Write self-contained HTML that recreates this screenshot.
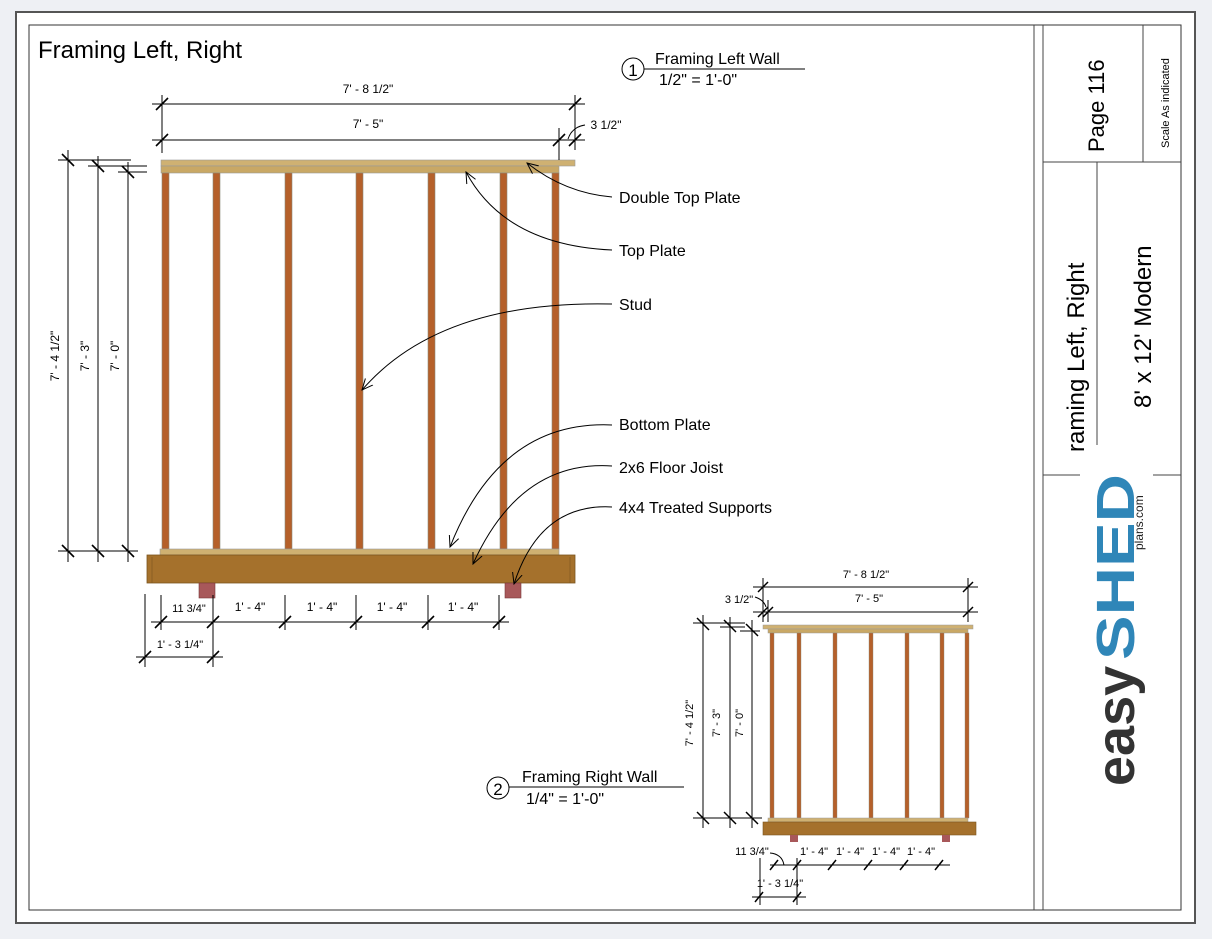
<!DOCTYPE html>
<html><head><meta charset="utf-8"><style>
html,body{margin:0;padding:0;background:#eef0f4;}
svg{display:block;font-family:"Liberation Sans",sans-serif;}
</style></head><body>
<svg width="1212" height="939" viewBox="0 0 1212 939" xmlns="http://www.w3.org/2000/svg">
<defs>
<marker id="ar" viewBox="0 0 12 12" refX="11" refY="6" markerWidth="12" markerHeight="12" orient="auto" markerUnits="userSpaceOnUse">
<path d="M0,1 L11,6 L0,11" fill="none" stroke="#000" stroke-width="1"/>
</marker>
</defs>
<rect x="0" y="0" width="1212" height="939" fill="#eef0f4"/>
<rect x="16" y="12" width="1179" height="911" fill="#fff" stroke="#555" stroke-width="2"/>
<rect x="29" y="25" width="1152" height="885" fill="#fff" stroke="#333" stroke-width="1"/>
<g stroke="#444" stroke-width="1" fill="none">
<line x1="1034" y1="25" x2="1034" y2="910"/>
<line x1="1043" y1="25" x2="1043" y2="910"/>
<line x1="1043" y1="162" x2="1181" y2="162"/>
<line x1="1143" y1="25" x2="1143" y2="162"/>
<line x1="1097" y1="162" x2="1097" y2="445"/>
<line x1="1043" y1="475" x2="1080" y2="475"/>
<line x1="1153" y1="475" x2="1181" y2="475"/>
</g>
<text transform="translate(1104,152) rotate(-90)" font-size="22">Page 116</text>
<text transform="translate(1169,148) rotate(-90)" font-size="11">Scale  As indicated</text>
<text transform="translate(1084,452) rotate(-90)" font-size="24">raming Left, Right</text>
<text transform="translate(1151,408) rotate(-90)" font-size="24">8' x 12' Modern</text>
<text transform="translate(1134,786) rotate(-90)" font-size="54" font-weight="bold" fill="#333">easy</text>
<text transform="translate(1134,660) rotate(-90)" font-size="54" font-weight="bold" fill="#2f86b8" textLength="186" lengthAdjust="spacingAndGlyphs">SHED</text>
<text transform="translate(1143,550) rotate(-90)" font-size="12" fill="#222">plans.com</text>

<text x="38" y="58" font-size="24">Framing Left, Right</text>
<circle cx="633" cy="69" r="11" fill="none" stroke="#000"/>
<text x="633" y="76" font-size="17" text-anchor="middle">1</text>
<line x1="644" y1="69" x2="805" y2="69" stroke="#000"/>
<text x="655" y="64" font-size="16">Framing Left Wall</text>
<text x="659" y="85" font-size="16">1/2" = 1'-0"</text>

<rect x="161" y="160" width="414" height="6" fill="#cfb172" stroke="#999" stroke-width="0.6"/>
<rect x="161" y="166" width="398" height="7" fill="#c9a865" stroke="#999" stroke-width="0.6"/>
<g fill="#b5602a" stroke="#8a8a7a" stroke-width="0.6">
<rect x="162" y="173" width="7" height="376"/>
<rect x="213" y="173" width="7" height="376"/>
<rect x="285" y="173" width="7" height="376"/>
<rect x="356" y="173" width="7" height="376"/>
<rect x="428" y="173" width="7" height="376"/>
<rect x="500" y="173" width="7" height="376"/>
<rect x="552" y="173" width="7" height="376"/>
</g>
<rect x="160" y="549" width="399" height="6" fill="#cfb172" stroke="#999" stroke-width="0.6"/>
<rect x="147" y="555" width="428" height="28" fill="#a5712c" stroke="#7a5520" stroke-width="0.8"/>
<line x1="152" y1="557" x2="152" y2="583" stroke="#7a5520" stroke-width="0.6"/>
<line x1="570" y1="557" x2="570" y2="583" stroke="#7a5520" stroke-width="0.6"/>
<rect x="199" y="583" width="16" height="15" fill="#a8585a" stroke="#7a3a3a" stroke-width="0.6"/>
<rect x="505" y="583" width="16" height="15" fill="#a8585a" stroke="#7a3a3a" stroke-width="0.6"/>

<g stroke="#000" stroke-width="1" fill="none">
<line x1="152" y1="104" x2="585" y2="104"/>
<line x1="152" y1="140" x2="585" y2="140"/>
<line x1="162" y1="95" x2="162" y2="153"/>
<line x1="575" y1="95" x2="575" y2="150"/>
<line x1="559" y1="128" x2="559" y2="160"/>
<line x1="156" y1="110" x2="168" y2="98" stroke-width="1.6"/>
<line x1="569" y1="110" x2="581" y2="98" stroke-width="1.6"/>
<line x1="156" y1="146" x2="168" y2="134" stroke-width="1.6"/>
<line x1="553" y1="146" x2="565" y2="134" stroke-width="1.6"/>
<line x1="569" y1="146" x2="581" y2="134" stroke-width="1.6"/>
<path d="M568,139 Q572,127 585,125"/>
<line x1="58" y1="160" x2="131" y2="160"/>
<line x1="88" y1="166" x2="147" y2="166"/>
<line x1="118" y1="172" x2="147" y2="172"/>
<line x1="58" y1="551" x2="138" y2="551"/>
<line x1="68" y1="150" x2="68" y2="562"/>
<line x1="98" y1="156" x2="98" y2="562"/>
<line x1="128" y1="162" x2="128" y2="562"/>
<line x1="62" y1="154" x2="74" y2="166" stroke-width="1.6"/>
<line x1="92" y1="160" x2="104" y2="172" stroke-width="1.6"/>
<line x1="122" y1="166" x2="134" y2="178" stroke-width="1.6"/>
<line x1="62" y1="545" x2="74" y2="557" stroke-width="1.6"/>
<line x1="92" y1="545" x2="104" y2="557" stroke-width="1.6"/>
<line x1="122" y1="545" x2="134" y2="557" stroke-width="1.6"/>
<!-- bottom dims -->
<line x1="151" y1="622" x2="509" y2="622"/>
<line x1="136" y1="657" x2="223" y2="657"/>
<line x1="145" y1="594" x2="145" y2="667"/>
<line x1="161" y1="595" x2="161" y2="630"/>
<line x1="213" y1="595" x2="213" y2="667"/>
<line x1="285" y1="595" x2="285" y2="630"/>
<line x1="356" y1="595" x2="356" y2="630"/>
<line x1="428" y1="595" x2="428" y2="630"/>
<line x1="499" y1="595" x2="499" y2="630"/>
</g>
<g stroke="#000" stroke-width="1.6">
<line x1="155" y1="628" x2="167" y2="616"/>
<line x1="207" y1="628" x2="219" y2="616"/>
<line x1="279" y1="628" x2="291" y2="616"/>
<line x1="350" y1="628" x2="362" y2="616"/>
<line x1="422" y1="628" x2="434" y2="616"/>
<line x1="493" y1="628" x2="505" y2="616"/>
<line x1="139" y1="663" x2="151" y2="651"/>
<line x1="207" y1="663" x2="219" y2="651"/>
</g>
<g font-size="12" text-anchor="middle">
<text x="368" y="93">7' - 8 1/2"</text>
<text x="368" y="128">7' - 5"</text>
<text x="606" y="129">3 1/2"</text>
<text transform="translate(59,356) rotate(-90)">7' - 4 1/2"</text>
<text transform="translate(89,356) rotate(-90)">7' - 3"</text>
<text transform="translate(119,356) rotate(-90)">7' - 0"</text>
<text x="189" y="612" font-size="11">11 3/4"</text>
<text x="250" y="611">1' - 4"</text>
<text x="322" y="611">1' - 4"</text>
<text x="392" y="611">1' - 4"</text>
<text x="463" y="611">1' - 4"</text>
<text x="180" y="648" font-size="11">1' - 3 1/4"</text>
</g>

<g stroke="#000" stroke-width="1" fill="none">
<path d="M612,197 Q565,193 527,163" marker-end="url(#ar)"/>
<path d="M612,250 Q505,245 466,172" marker-end="url(#ar)"/>
<path d="M612,304 Q440,300 362,390" marker-end="url(#ar)"/>
<path d="M612,425 Q500,420 450,547" marker-end="url(#ar)"/>
<path d="M612,466 Q520,460 473,564" marker-end="url(#ar)"/>
<path d="M612,507 Q540,503 514,584" marker-end="url(#ar)"/>
</g>
<g font-size="16">
<text x="619" y="203">Double Top Plate</text>
<text x="619" y="256">Top Plate</text>
<text x="619" y="310">Stud</text>
<text x="619" y="430">Bottom Plate</text>
<text x="619" y="473">2x6 Floor Joist</text>
<text x="619" y="513">4x4 Treated Supports</text>
</g>

<rect x="763" y="625" width="210" height="4" fill="#cfb172" stroke="#999" stroke-width="0.5"/>
<rect x="768" y="629" width="200" height="4" fill="#c9a865" stroke="#999" stroke-width="0.5"/>
<g fill="#b5602a" stroke="#8a8a7a" stroke-width="0.4">
<rect x="770" y="633" width="4" height="185"/>
<rect x="797" y="633" width="4" height="185"/>
<rect x="833" y="633" width="4" height="185"/>
<rect x="869" y="633" width="4" height="185"/>
<rect x="905" y="633" width="4" height="185"/>
<rect x="940" y="633" width="4" height="185"/>
<rect x="965" y="633" width="4" height="185"/>
</g>
<rect x="768" y="818" width="200" height="4" fill="#cfb172" stroke="#999" stroke-width="0.5"/>
<rect x="763" y="822" width="213" height="13" fill="#a5712c" stroke="#7a5520" stroke-width="0.6"/>
<rect x="790" y="835" width="8" height="7" fill="#a8585a"/>
<rect x="942" y="835" width="8" height="7" fill="#a8585a"/>
<g stroke="#000" stroke-width="1" fill="none">
<line x1="753" y1="587" x2="978" y2="587"/>
<line x1="753" y1="612" x2="978" y2="612"/>
<line x1="763" y1="578" x2="763" y2="622"/>
<line x1="768" y1="600" x2="768" y2="622"/>
<line x1="968" y1="578" x2="968" y2="622"/>
<path d="M755,597 Q764,600 766,607"/>
<line x1="693" y1="623" x2="745" y2="623"/>
<line x1="720" y1="627" x2="745" y2="627"/>
<line x1="740" y1="631" x2="760" y2="631"/>
<line x1="693" y1="818" x2="762" y2="818"/>
<line x1="703" y1="615" x2="703" y2="828"/>
<line x1="730" y1="617" x2="730" y2="828"/>
<line x1="752" y1="620" x2="752" y2="828"/>
<line x1="770" y1="865" x2="950" y2="865"/>
<line x1="752" y1="897" x2="806" y2="897"/>
<line x1="760" y1="858" x2="760" y2="905"/>
<line x1="797" y1="858" x2="797" y2="905"/>
<path d="M770,853 Q782,854 784,865"/>
</g>
<g stroke="#000" stroke-width="1.5">
<line x1="758" y1="592" x2="768" y2="582"/>
<line x1="963" y1="592" x2="973" y2="582"/>
<line x1="758" y1="617" x2="768" y2="607"/>
<line x1="763" y1="617" x2="773" y2="607"/>
<line x1="963" y1="617" x2="973" y2="607"/>
<line x1="697" y1="618" x2="709" y2="630"/>
<line x1="724" y1="620" x2="736" y2="632"/>
<line x1="746" y1="624" x2="758" y2="636"/>
<line x1="697" y1="812" x2="709" y2="824"/>
<line x1="724" y1="812" x2="736" y2="824"/>
<line x1="746" y1="812" x2="758" y2="824"/>
<line x1="770" y1="870" x2="778" y2="860"/>
<line x1="793" y1="870" x2="801" y2="860"/>
<line x1="828" y1="870" x2="836" y2="860"/>
<line x1="864" y1="870" x2="872" y2="860"/>
<line x1="900" y1="870" x2="908" y2="860"/>
<line x1="935" y1="870" x2="943" y2="860"/>
<line x1="755" y1="902" x2="763" y2="892"/>
<line x1="793" y1="902" x2="801" y2="892"/>
</g>
<g font-size="11" text-anchor="middle">
<text x="866" y="578">7' - 8 1/2"</text>
<text x="869" y="602">7' - 5"</text>
<text x="739" y="603">3 1/2"</text>
<text transform="translate(693,723) rotate(-90)">7' - 4 1/2"</text>
<text transform="translate(720,723) rotate(-90)">7' - 3"</text>
<text transform="translate(743,723) rotate(-90)">7' - 0"</text>
<text x="752" y="855">11 3/4"</text>
<text x="814" y="855">1' - 4"</text>
<text x="850" y="855">1' - 4"</text>
<text x="886" y="855">1' - 4"</text>
<text x="921" y="855">1' - 4"</text>
<text x="780" y="887">1' - 3 1/4"</text>
</g>
<circle cx="498" cy="788" r="11" fill="none" stroke="#000"/>
<text x="498" y="795" font-size="17" text-anchor="middle">2</text>
<line x1="509" y1="787" x2="684" y2="787" stroke="#000"/>
<text x="522" y="782" font-size="16">Framing Right Wall</text>
<text x="526" y="804" font-size="16">1/4" = 1'-0"</text>
</svg>
</body></html>
